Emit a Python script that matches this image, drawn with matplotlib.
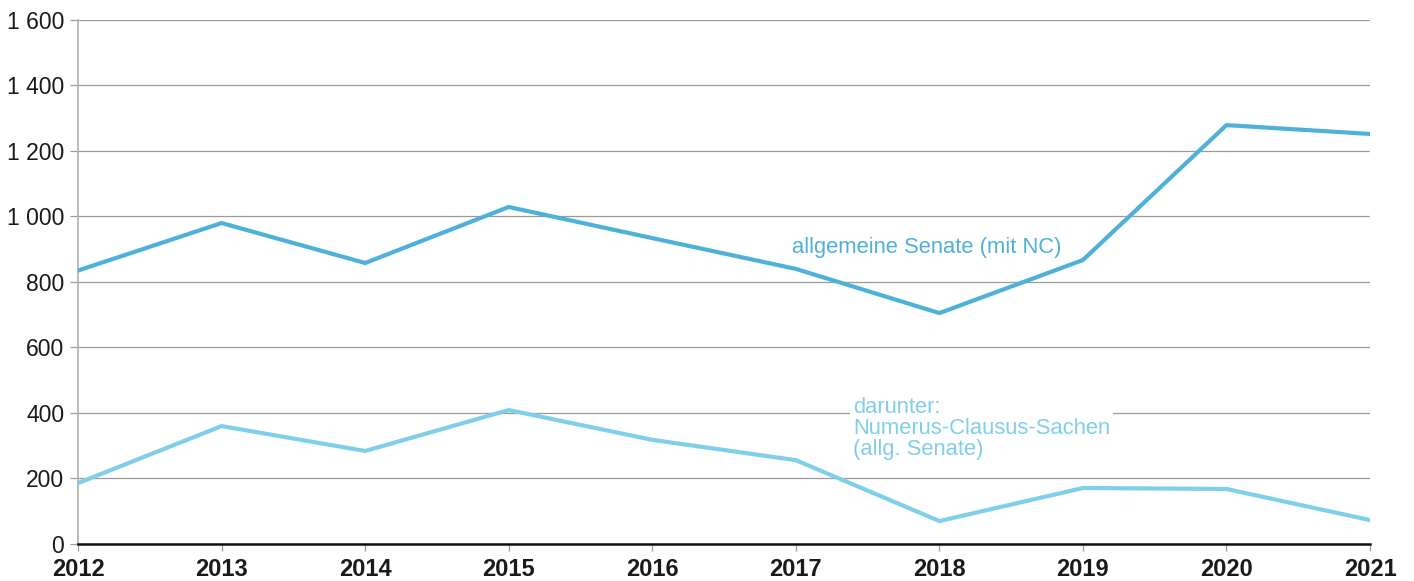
import matplotlib.pyplot as plt
from matplotlib.ticker import FuncFormatter

# Daten
years = [2012, 2013, 2014, 2015, 2016, 2017, 2018, 2019, 2020, 2021]
allgemeine = [835, 980, 858, 1029, 934, 840, 705, 867, 1279, 1252]
nc_sachen = [186, 360, 284, 409, 318, 256, 70, 171, 168, 73]

label_allg = "allgemeine Senate (mit NC)"
label_nc = "darunter:\nNumerus-Clausus-Sachen\n(allg. Senate)"

plt.rcParams['font.family'] = ['Liberation Sans', 'DejaVu Sans']

fig = plt.figure(figsize=(14.14, 5.81), dpi=100)
ax = fig.add_axes([0.0552, 0.0637, 0.9137, 0.9019])

ax.plot(years, allgemeine, color="#4db1da", lw=3.0, zorder=3, solid_joinstyle="miter")
ax.plot(years, nc_sachen, color="#7fcfe9", lw=3.0, zorder=3, solid_joinstyle="miter")

ax.set_xlim(2012, 2021)
ax.set_ylim(0, 1600)
ax.set_yticks(range(0, 1601, 200))
ax.set_xticks(years)
ax.yaxis.set_major_formatter(FuncFormatter(lambda v, p: f"{int(v):,}".replace(",", " ")))

ax.grid(axis="y", color="#9a9a9a", lw=0.9, zorder=1)
ax.set_axisbelow(True)

for s in ["top", "right"]:
    ax.spines[s].set_visible(False)
ax.spines["left"].set_color("#b5b5b5")
ax.spines["left"].set_linewidth(1.3)
ax.spines["bottom"].set_color("#111111")
ax.spines["bottom"].set_linewidth(1.8)
ax.spines["bottom"].set_zorder(4)

ax.tick_params(axis="y", length=6, color="#9a9a9a", width=0.9, labelsize=16.5, labelcolor="#1a1a1a", pad=4)
ax.tick_params(axis="x", length=5, color="#9a9a9a", width=0.9, labelsize=17, labelcolor="#1a1a1a", pad=5)
for lbl in ax.get_xticklabels():
    lbl.set_fontweight("bold")

ax.text(2016.97, 904, label_allg, color="#4db1da", fontsize=15.8, va="center", ha="left", zorder=2.5)
ax.text(2017.40, 450, label_nc, color="#7fcfe9", fontsize=15.8, va="top", ha="left",
        linespacing=1.0, zorder=2.5,
        bbox=dict(facecolor="white", edgecolor="none", pad=2))

plt.savefig("out.png", dpi=100)
